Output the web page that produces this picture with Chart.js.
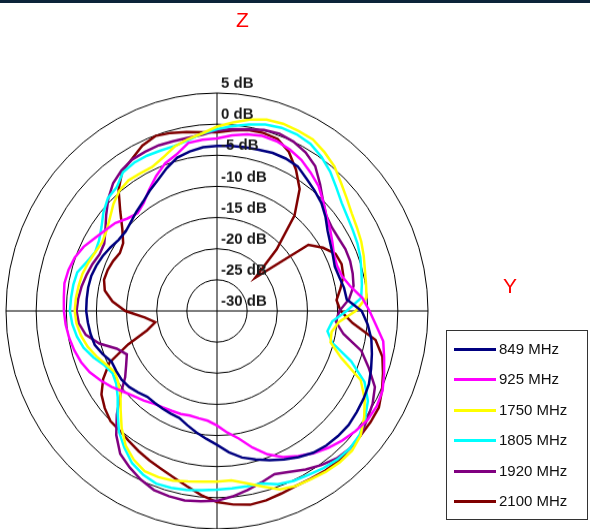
<!DOCTYPE html>
<html lang="en">
<head>
<meta charset="UTF-8">
<title>Radiation pattern</title>
<script src="https://cdn.jsdelivr.net/npm/chart.js"></script>
<style>
    html, body { margin: 0; padding: 0; background: #fff; }
    body { width: 590px; height: 529px; position: relative; overflow: hidden; font-family: Arial, "Liberation Sans", sans-serif; }
    #topBar { position: absolute; left: 0; top: 0; width: 590px; height: 3px; background: #0c243a; z-index: 2; }
    /* the original plot is slightly taller than wide */
    #plotWrap { position: absolute; left: 0; top: 0; width: 590px; height: 512px; transform: scaleY(1.033); transform-origin: 0 0; }
    .axisName { position: absolute; color: #ff0000; font-size: 21px; line-height: 1; }
    #legend { position: absolute; left: 446px; top: 330px; width: 142px; height: 190px; border: 1px solid #333; box-sizing: border-box; background: #fff; }
    .row { position: absolute; left: 0; height: 20px; }
    .row .swatch { position: absolute; left: 7px; top: 9px; width: 42px; height: 3px; }
    .row .txt { position: absolute; left: 52px; top: 0; font-size: 15px; line-height: 20px; color: #111; white-space: nowrap; }
</style>
</head>
<body>
<div id="topBar"></div>
<div id="plotWrap"><canvas id="patternChart" width="590" height="512"></canvas></div>
<div class="axisName" style="left:236px; top:9px;">Z</div>
<div class="axisName" style="left:503px; top:275px;">Y</div>
<div id="legend"></div>

<script>
// angles in degrees, clockwise from Z (top)
const angles = [0, 5, 10, 15, 20, 25, 30, 35, 40, 45, 50, 55, 60, 65, 70, 75, 80, 85,
    90, 95, 100, 105, 110, 115, 120, 125, 130, 135, 140, 145, 150, 155, 160, 165, 170, 175,
    180, 185, 190, 195, 200, 205, 210, 215, 220, 225, 230, 235, 240, 245, 250, 255, 260, 265,
    270, 275, 280, 285, 290, 295, 300, 305, 310, 315, 320, 325, 330, 335, 340, 345, 350, 355];

const tickValues = [5, 0, -5, -10, -15, -20, -25, -30];

const seriesNames = ["849 MHz", "925 MHz", "1750 MHz", "1805 MHz", "1920 MHz", "2100 MHz"];
const seriesColors = ["#000080", "#ff00ff", "#ffff00", "#00ffff", "#800080", "#800000"];

// gain, dB
const gain849 = [-3.5, -3.4, -3.3, -3.2, -3.0, -3.0, -3.2, -4.1, -4.8, -5.5,
    -6.5, -7.6, -8.3, -8.8, -9.2, -9.0, -8.6, -8.4, -6.0, -4.9,
    -4.0, -3.4, -2.8, -2.2, -1.9, -1.7, -1.5, -1.6, -1.8, -2.2,
    -2.9, -3.7, -4.5, -5.3, -6.1, -7.2, -8.5, -9.4, -10.2, -11.0,
    -11.7, -11.8, -11.9, -12.0, -12.0, -11.5, -11.0, -10.7, -10.7, -10.7,
    -9.8, -9.0, -8.7, -8.5, -8.3, -8.3, -8.3, -8.4, -8.7, -9.1,
    -9.6, -10.1, -10.2, -9.8, -9.2, -8.6, -7.7, -6.8, -5.6, -4.5,
    -4.0, -3.6];
const gain925 = [-2.3, -1.7, -1.2, -0.9, -1.0, -1.4, -2.0, -2.9, -3.8, -5.1,
    -6.3, -7.1, -7.9, -8.6, -8.8, -8.5, -7.5, -5.8, -4.7, -3.5,
    -2.0, -1.3, -0.5, 0.3, 0.6, 0.5, 0.0, -0.6, -1.3, -2.1,
    -3.1, -4.1, -5.5, -7.3, -9.2, -10.4, -11.6, -12.3, -12.5, -12.6,
    -12.4, -12.3, -12.1, -11.8, -11.2, -10.6, -9.8, -8.7, -7.7, -6.7,
    -6.0, -5.5, -5.1, -4.8, -4.6, -4.5, -4.3, -4.5, -4.9, -5.6,
    -6.6, -7.4, -8.0, -9.0, -9.5, -8.8, -7.5, -6.1, -4.8, -4.0,
    -2.6, -2.4];
const gain1750 = [-0.4, 0.4, 1.2, 1.8, 2.0, 1.9, 1.8, 1.1, 0.3, -0.9,
    -1.9, -2.7, -3.2, -3.6, -4.1, -4.6, -4.9, -5.1, -7.0, -9.7,
    -10.7, -10.5, -8.1, -3.7, -1.7, -0.2, 1.1, 1.7, 1.7, 1.5,
    1.2, 1.0, 0.5, -0.8, -1.9, -2.7, -2.6, -2.5, -2.2, -1.8,
    -1.6, -1.6, -2.4, -3.6, -5.4, -7.4, -9.1, -10.0, -10.4, -9.7,
    -8.7, -7.8, -7.1, -6.6, -6.4, -6.5, -6.7, -6.9, -7.3, -7.7,
    -8.0, -7.6, -6.8, -5.7, -4.8, -4.4, -4.5, -4.5, -3.8, -2.7,
    -2.0, -1.4];
const gain1805 = [-0.8, -0.2, 0.4, 1.0, 1.3, 1.3, 1.0, 0.2, -0.8, -2.0,
    -3.0, -3.6, -4.0, -4.3, -4.7, -5.2, -5.6, -6.0, -8.5, -10.8,
    -11.4, -10.2, -6.3, -3.0, -1.1, 0.0, 0.9, 1.2, 1.1, 0.8,
    0.4, 0.1, -0.4, -1.3, -1.4, -1.4, -1.3, -1.1, -0.8, -0.6,
    -0.5, -1.0, -1.8, -3.2, -4.7, -6.7, -8.5, -9.6, -10.0, -9.4,
    -8.2, -7.1, -6.4, -5.9, -5.6, -5.7, -5.8, -6.0, -7.0, -7.7,
    -7.4, -6.6, -5.4, -4.4, -4.1, -2.8, -2.5, -2.5, -2.6, -2.6,
    -2.2, -1.4];
const gain1920 = [-1.0, -0.7, -0.4, 0.1, 0.3, 0.0, -0.6, -1.6, -3.4, -5.1,
    -6.3, -6.7, -6.7, -6.5, -6.5, -6.7, -7.0, -8.0, -9.7, -10.2,
    -8.7, -5.2, -3.2, -1.1, -0.2, 0.4, 1.1, 1.2, 0.9, 0.2,
    -0.6, -1.5, -2.1, -1.5, -0.8, -0.1, 0.5, 0.7, 0.9, 0.8,
    0.6, -0.1, -1.0, -2.0, -4.0, -6.5, -9.1, -11.4, -12.6, -13.5,
    -12.3, -9.8, -7.9, -7.0, -6.7, -6.9, -7.2, -7.6, -8.0, -8.5,
    -8.4, -7.4, -6.0, -4.5, -3.2, -2.4, -1.9, -1.8, -1.7, -1.8,
    -1.8, -1.6];
const gain2100 = [-1.3, -0.9, -0.5, -0.4, -0.6, -1.8, -3.8, -6.1, -10.0, -16.0,
    -21.7, -11.5, -9.7, -8.3, -8.0, -8.3, -9.2, -10.1, -9.5, -7.4,
    -3.3, -1.6, -0.7, 0.2, 1.0, 1.1, 1.1, 1.2, 1.4, 1.3,
    1.1, 1.0, 1.2, 1.5, 1.6, 1.2, 0.7, -0.3, -1.4, -2.3,
    -3.0, -3.5, -4.0, -4.5, -4.9, -5.0, -5.7, -6.6, -8.2, -10.3,
    -14.3, -18.0, -19.6, -18.0, -14.8, -12.6, -11.1, -10.6, -10.7, -11.0,
    -11.4, -11.0, -9.5, -7.3, -4.6, -2.6, -1.8, -0.7, -0.1, -0.4,
    -0.8, -1.2];

const seriesData = [gain849, gain925, gain1750, gain1805, gain1920, gain2100];

// подписи дБ вдоль вертикальной оси, выровнены влево
const dbLabels = {
    id: "dbLabels",
    afterDatasetsDraw(chart) {
        const r = chart.scales.r;
        const ctx = chart.ctx;
        ctx.save();
        ctx.font = 'bold 15px Arial, "Liberation Sans", sans-serif';
        ctx.fillStyle = "#1a1a1a";
        ctx.textAlign = "left";
        ctx.textBaseline = "middle";
        tickValues.forEach(v => {
            const d = r.getDistanceFromCenterForValue(v);
            ctx.fillText(v + " dB", r.xCenter + 4, r.yCenter - d - 9);
        });
        ctx.restore();
    }
};

new Chart(document.getElementById("patternChart").getContext("2d"), {
    type: "radar",
    data: {
        labels: angles.map(a => a + "°"),
        datasets: seriesNames.map((name, i) => ({
            label: name,
            data: seriesData[i],
            borderColor: seriesColors[i],
            borderWidth: 2.5,
            pointRadius: 0,
            fill: false,
            tension: 0
        }))
    },
    options: {
        responsive: false,
        animation: false,
        devicePixelRatio: 1,
        layout: { padding: { left: 6, right: 162, top: 90, bottom: 0 } },
        plugins: { legend: { display: false }, tooltip: { enabled: false } },
        scales: {
            r: {
                min: -30,
                max: 5,
                ticks: { stepSize: 5, display: false },
                grid: { circular: true, color: "#000", lineWidth: 1 },
                angleLines: {
                    color: "#000",
                    lineWidth: ctx => (ctx.index % 18 === 0 ? 1 : 0)
                },
                pointLabels: { display: false }
            }
        }
    },
    plugins: [dbLabels]
});

// легенда
const legend = document.getElementById("legend");
seriesNames.forEach((name, i) => {
    const row = document.createElement("div");
    row.className = "row";
    row.style.top = (8 + i * 30.4) + "px";
    row.innerHTML = '<div class="swatch" style="background:' + seriesColors[i] + '"></div><div class="txt">' + name + '</div>';
    legend.appendChild(row);
});
</script>
</body>
</html>
